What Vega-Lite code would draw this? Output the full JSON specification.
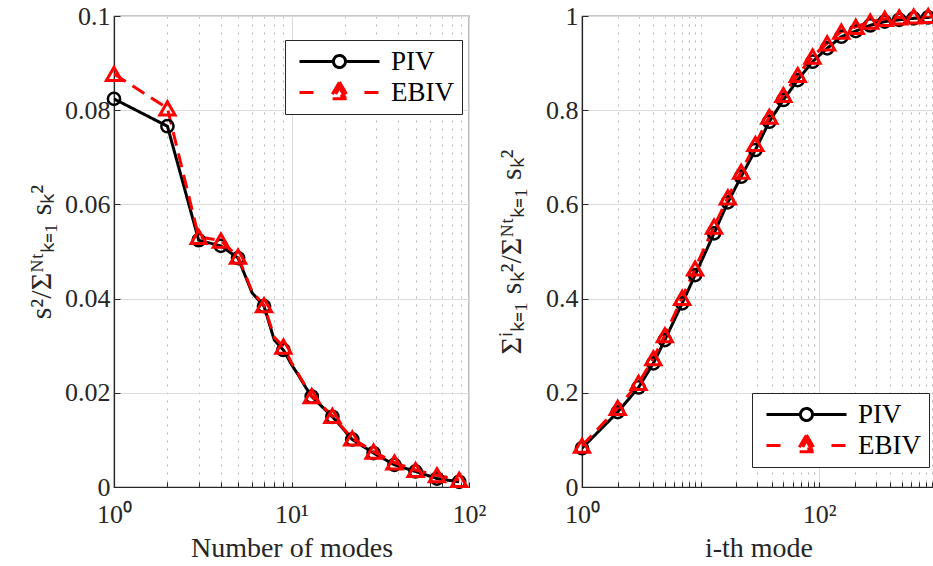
{
  "$schema": "https://vega.github.io/schema/vega-lite/v6.json",
  "padding": {"left": 25, "top": 2, "right": 0, "bottom": 0},
  "background": "white",
  "datasets": {
    "left": [
      {"series": "PIV", "x": 1, "y": 0.0824, "m": true},
      {"series": "PIV", "x": 2, "y": 0.0766, "m": true},
      {"series": "PIV", "x": 3, "y": 0.0524, "m": true},
      {"series": "PIV", "x": 4, "y": 0.0512, "m": true},
      {"series": "PIV", "x": 5, "y": 0.0486, "m": true},
      {"series": "PIV", "x": 6, "y": 0.0412, "m": false},
      {"series": "PIV", "x": 7, "y": 0.0384, "m": true},
      {"series": "PIV", "x": 8, "y": 0.0312, "m": false},
      {"series": "PIV", "x": 9, "y": 0.0291, "m": true},
      {"series": "PIV", "x": 10, "y": 0.0260, "m": false},
      {"series": "PIV", "x": 11, "y": 0.0236, "m": false},
      {"series": "PIV", "x": 12, "y": 0.0212, "m": false},
      {"series": "PIV", "x": 13, "y": 0.0192, "m": true},
      {"series": "PIV", "x": 17, "y": 0.0149, "m": true},
      {"series": "PIV", "x": 22, "y": 0.0101, "m": true},
      {"series": "PIV", "x": 29, "y": 0.0072, "m": true},
      {"series": "PIV", "x": 38, "y": 0.0047, "m": true},
      {"series": "PIV", "x": 50, "y": 0.0033, "m": true},
      {"series": "PIV", "x": 66, "y": 0.0018, "m": true},
      {"series": "PIV", "x": 88, "y": 0.0011, "m": true},
      {"series": "EBIV", "x": 1, "y": 0.0877, "m": true},
      {"series": "EBIV", "x": 2, "y": 0.0804, "m": true},
      {"series": "EBIV", "x": 3, "y": 0.0531, "m": true},
      {"series": "EBIV", "x": 4, "y": 0.0523, "m": true},
      {"series": "EBIV", "x": 5, "y": 0.0489, "m": true},
      {"series": "EBIV", "x": 6, "y": 0.0415, "m": false},
      {"series": "EBIV", "x": 7, "y": 0.0386, "m": true},
      {"series": "EBIV", "x": 8, "y": 0.0318, "m": false},
      {"series": "EBIV", "x": 9, "y": 0.0298, "m": true},
      {"series": "EBIV", "x": 10, "y": 0.0264, "m": false},
      {"series": "EBIV", "x": 11, "y": 0.0238, "m": false},
      {"series": "EBIV", "x": 12, "y": 0.0214, "m": false},
      {"series": "EBIV", "x": 13, "y": 0.0193, "m": true},
      {"series": "EBIV", "x": 17, "y": 0.0151, "m": true},
      {"series": "EBIV", "x": 22, "y": 0.0103, "m": true},
      {"series": "EBIV", "x": 29, "y": 0.0075, "m": true},
      {"series": "EBIV", "x": 38, "y": 0.0052, "m": true},
      {"series": "EBIV", "x": 50, "y": 0.0036, "m": true},
      {"series": "EBIV", "x": 66, "y": 0.0025, "m": true},
      {"series": "EBIV", "x": 88, "y": 0.0015, "m": true}
    ],
    "right": [
      {"series": "PIV", "x": 1, "y": 0.0824, "m": true},
      {"series": "PIV", "x": 2, "y": 0.159, "m": true},
      {"series": "PIV", "x": 3, "y": 0.2114, "m": true},
      {"series": "PIV", "x": 4, "y": 0.2626, "m": true},
      {"series": "PIV", "x": 5, "y": 0.312, "m": true},
      {"series": "PIV", "x": 7, "y": 0.390, "m": true},
      {"series": "PIV", "x": 9, "y": 0.450, "m": true},
      {"series": "PIV", "x": 13, "y": 0.5386, "m": true},
      {"series": "PIV", "x": 17, "y": 0.6044, "m": true},
      {"series": "PIV", "x": 22, "y": 0.6588, "m": true},
      {"series": "PIV", "x": 29, "y": 0.7155, "m": true},
      {"series": "PIV", "x": 38, "y": 0.7756, "m": true},
      {"series": "PIV", "x": 50, "y": 0.8217, "m": true},
      {"series": "PIV", "x": 66, "y": 0.8641, "m": true},
      {"series": "PIV", "x": 88, "y": 0.903, "m": true},
      {"series": "PIV", "x": 117, "y": 0.9314, "m": true},
      {"series": "PIV", "x": 154, "y": 0.956, "m": true},
      {"series": "PIV", "x": 204, "y": 0.968, "m": true},
      {"series": "PIV", "x": 270, "y": 0.980, "m": true},
      {"series": "PIV", "x": 358, "y": 0.988, "m": true},
      {"series": "PIV", "x": 474, "y": 0.992, "m": true},
      {"series": "PIV", "x": 628, "y": 0.995, "m": true},
      {"series": "PIV", "x": 832, "y": 0.997, "m": true},
      {"series": "PIV", "x": 950, "y": 1.0, "m": false},
      {"series": "EBIV", "x": 1, "y": 0.0877, "m": true},
      {"series": "EBIV", "x": 2, "y": 0.168, "m": true},
      {"series": "EBIV", "x": 3, "y": 0.221, "m": true},
      {"series": "EBIV", "x": 4, "y": 0.2733, "m": true},
      {"series": "EBIV", "x": 5, "y": 0.3222, "m": true},
      {"series": "EBIV", "x": 7, "y": 0.4015, "m": true},
      {"series": "EBIV", "x": 9, "y": 0.464, "m": true},
      {"series": "EBIV", "x": 13, "y": 0.5527, "m": true},
      {"series": "EBIV", "x": 17, "y": 0.615, "m": true},
      {"series": "EBIV", "x": 22, "y": 0.6694, "m": true},
      {"series": "EBIV", "x": 29, "y": 0.7282, "m": true},
      {"series": "EBIV", "x": 38, "y": 0.7862, "m": true},
      {"series": "EBIV", "x": 50, "y": 0.8323, "m": true},
      {"series": "EBIV", "x": 66, "y": 0.8747, "m": true},
      {"series": "EBIV", "x": 88, "y": 0.9137, "m": true},
      {"series": "EBIV", "x": 117, "y": 0.942, "m": true},
      {"series": "EBIV", "x": 154, "y": 0.9667, "m": true},
      {"series": "EBIV", "x": 204, "y": 0.977, "m": true},
      {"series": "EBIV", "x": 270, "y": 0.988, "m": true},
      {"series": "EBIV", "x": 358, "y": 0.994, "m": true},
      {"series": "EBIV", "x": 474, "y": 0.997, "m": true},
      {"series": "EBIV", "x": 628, "y": 0.999, "m": true},
      {"series": "EBIV", "x": 832, "y": 1.0, "m": true},
      {"series": "EBIV", "x": 950, "y": 1.0, "m": false}
    ]
  },
  "spacing": 8,
  "resolve": {
    "scale": {"color": "independent", "strokeDash": "independent", "shape": "independent"},
    "legend": {"color": "independent", "shape": "independent"}
  },
  "hconcat": [
    {
      "width": 355,
      "height": 471,
      "data": {"name": "left"},
      "layer": [
        {
          "mark": {"type": "line", "strokeWidth": 3, "clip": true},
          "encoding": {
            "x": {
              "field": "x", "type": "quantitative",
              "scale": {"type": "log", "domain": [1, 100], "nice": false},
              "title": "Number of modes",
              "axis": {
                "values": [1,2,3,4,5,6,7,8,9,10,20,30,40,50,60,70,80,90,100],
                "labelExpr": "datum.value == 1 ? '10⁰' : datum.value == 10 ? '10¹' : datum.value == 100 ? '10²' : ''",
                "gridDash": {"condition": {"test": "datum.value == 1 || datum.value == 10 || datum.value == 100", "value": []}, "value": [2, 6]},
                "gridColor": {"condition": {"test": "datum.value == 1 || datum.value == 10 || datum.value == 100", "value": "#dcdcdc"}, "value": "#b8b8b8"},
                "tickSize": -5,
                "labelPadding": 19,
                "titlePadding": 7
              }
            },
            "y": {
              "field": "y", "type": "quantitative",
              "scale": {"domain": [0, 0.1], "nice": false},
              "title": "s²/Σᴺᵗₖ₌₁ sₖ²",
              "axis": {"values": [0, 0.02, 0.04, 0.06, 0.08, 0.1], "format": ".2~f", "tickSize": -6, "labelPadding": 10, "titlePadding": 8, "titleFontSize": 30}
            },
            "color": {
              "field": "series", "type": "nominal",
              "scale": {"domain": ["PIV", "EBIV"], "range": ["#000000", "#ff0000"]}
            },
            "strokeDash": {
              "field": "series", "type": "nominal",
              "scale": {"domain": ["PIV", "EBIV"], "range": [[1, 0], [14, 8]]},
              "legend": null
            }
          }
        },
        {
          "transform": [{"filter": "datum.m && datum.series == 'PIV'"}],
          "mark": {"type": "point", "shape": "circle", "filled": false, "strokeWidth": 2.5, "size": 150, "opacity": 1},
          "encoding": {
            "x": {"field": "x", "type": "quantitative"},
            "y": {"field": "y", "type": "quantitative"},
            "color": {"field": "series", "type": "nominal"}
          }
        },
        {
          "transform": [{"filter": "datum.m && datum.series == 'EBIV'"}],
          "mark": {"type": "point", "shape": "triangle-up", "filled": false, "strokeWidth": 3, "size": 230, "opacity": 1},
          "encoding": {
            "x": {"field": "x", "type": "quantitative"},
            "y": {"field": "y", "type": "quantitative"},
            "color": {"field": "series", "type": "nominal"}
          }
        },
        {
          "transform": [{"filter": "false"}],
          "mark": {"type": "point", "filled": false, "strokeWidth": 3, "opacity": 1},
          "encoding": {
            "x": {"field": "x", "type": "quantitative"},
            "y": {"field": "y", "type": "quantitative"},
            "color": {
              "field": "series", "type": "nominal",
              "legend": {
                "title": null, "orient": "none", "legendX": 171, "legendY": 24,
                "symbolSize": 196, "symbolStrokeWidth": 3, "labelOffset": 71, "rowPadding": 1, "padding": 8,
                "labelFontSize": 27, "labelFont": "Liberation Serif", "labelColor": "#000000", "strokeColor": "#262626", "fillColor": "white"
              }
            },
            "shape": {
              "field": "series", "type": "nominal",
              "scale": {"domain": ["PIV", "EBIV"], "range": ["M-1,0H3.85M5.57,0H10.43M5.57,0A0.86,0.86,0,1,1,3.85,0A0.86,0.86,0,1,1,5.57,0", "M-1,0H1M4.71,-1.5L6.1,0.9L3.32,0.9ZM4.71,-0.75L5.4,0.5L4.02,0.5ZM8.28,0H10.43"]},
              "legend": {
                "title": null, "orient": "none", "legendX": 171, "legendY": 24,
                "symbolSize": 196, "symbolStrokeWidth": 3, "labelOffset": 71, "rowPadding": 1, "padding": 8,
                "labelFontSize": 27, "labelFont": "Liberation Serif", "labelColor": "#000000", "strokeColor": "#262626", "fillColor": "white"
              }
            }
          }
        }
      ]
    },
    {
      "width": 353,
      "height": 471,
      "data": {"name": "right"},
      "layer": [
        {
          "mark": {"type": "line", "strokeWidth": 3, "clip": true},
          "encoding": {
            "x": {
              "field": "x", "type": "quantitative",
              "scale": {"type": "log", "domain": [1, 950], "nice": false},
              "title": "i-th mode",
              "axis": {
                "values": [1,2,3,4,5,6,7,8,9,10,20,30,40,50,60,70,80,90,100,200,300,400,500,600,700,800,900],
                "labelExpr": "datum.value == 1 ? '10⁰' : datum.value == 100 ? '10²' : ''",
                "gridDash": {"condition": {"test": "datum.value == 1 || datum.value == 100", "value": []}, "value": [2, 6]},
                "gridColor": {"condition": {"test": "datum.value == 1 || datum.value == 100", "value": "#dcdcdc"}, "value": "#b8b8b8"},
                "tickSize": -5,
                "labelPadding": 19,
                "titlePadding": 7
              }
            },
            "y": {
              "field": "y", "type": "quantitative",
              "scale": {"domain": [0, 1], "nice": false},
              "title": "Σⁱₖ₌₁ sₖ²/Σᴺᵗₖ₌₁ sₖ²",
              "axis": {"values": [0, 0.2, 0.4, 0.6, 0.8, 1], "format": ".1~f", "tickSize": -6, "labelPadding": 10, "titlePadding": 19, "titleFontSize": 30}
            },
            "color": {
              "field": "series", "type": "nominal",
              "scale": {"domain": ["PIV", "EBIV"], "range": ["#000000", "#ff0000"]}
            },
            "strokeDash": {
              "field": "series", "type": "nominal",
              "scale": {"domain": ["PIV", "EBIV"], "range": [[1, 0], [14, 8]]},
              "legend": null
            }
          }
        },
        {
          "transform": [{"filter": "datum.m && datum.series == 'PIV'"}],
          "mark": {"type": "point", "shape": "circle", "filled": false, "strokeWidth": 2.5, "size": 150, "opacity": 1},
          "encoding": {
            "x": {"field": "x", "type": "quantitative"},
            "y": {"field": "y", "type": "quantitative"},
            "color": {"field": "series", "type": "nominal"}
          }
        },
        {
          "transform": [{"filter": "datum.m && datum.series == 'EBIV'"}],
          "mark": {"type": "point", "shape": "triangle-up", "filled": false, "strokeWidth": 3, "size": 230, "opacity": 1},
          "encoding": {
            "x": {"field": "x", "type": "quantitative"},
            "y": {"field": "y", "type": "quantitative"},
            "color": {"field": "series", "type": "nominal"}
          }
        },
        {
          "transform": [{"filter": "false"}],
          "mark": {"type": "point", "filled": false, "strokeWidth": 3, "opacity": 1},
          "encoding": {
            "x": {"field": "x", "type": "quantitative"},
            "y": {"field": "y", "type": "quantitative"},
            "color": {
              "field": "series", "type": "nominal",
              "legend": {
                "title": null, "orient": "none", "legendX": 170, "legendY": 377,
                "symbolSize": 196, "symbolStrokeWidth": 3, "labelOffset": 71, "rowPadding": 1, "padding": 8,
                "labelFontSize": 27, "labelFont": "Liberation Serif", "labelColor": "#000000", "strokeColor": "#262626", "fillColor": "white"
              }
            },
            "shape": {
              "field": "series", "type": "nominal",
              "scale": {"domain": ["PIV", "EBIV"], "range": ["M-1,0H3.85M5.57,0H10.43M5.57,0A0.86,0.86,0,1,1,3.85,0A0.86,0.86,0,1,1,5.57,0", "M-1,0H1M4.71,-1.5L6.1,0.9L3.32,0.9ZM4.71,-0.75L5.4,0.5L4.02,0.5ZM8.28,0H10.43"]},
              "legend": {
                "title": null, "orient": "none", "legendX": 170, "legendY": 377,
                "symbolSize": 196, "symbolStrokeWidth": 3, "labelOffset": 71, "rowPadding": 1, "padding": 8,
                "labelFontSize": 27, "labelFont": "Liberation Serif", "labelColor": "#000000", "strokeColor": "#262626", "fillColor": "white"
              }
            }
          }
        }
      ]
    }
  ],
  "config": {
    "font": "Liberation Serif",
    "view": {"stroke": "#262626", "strokeWidth": 1.2},
    "axis": {
      "labelFont": "Liberation Serif",
      "titleFont": "Liberation Serif",
      "labelFlush": false,
      "labelFontSize": 26,
      "titleFontSize": 28,
      "labelColor": "#262626",
      "titleColor": "#262626",
      "titleFontWeight": "normal",
      "domainColor": "#262626",
      "domainWidth": 1.2,
      "tickColor": "#262626",
      "tickWidth": 1,
      "gridColor": "#dcdcdc",
      "gridWidth": 1
    }
  }
}
